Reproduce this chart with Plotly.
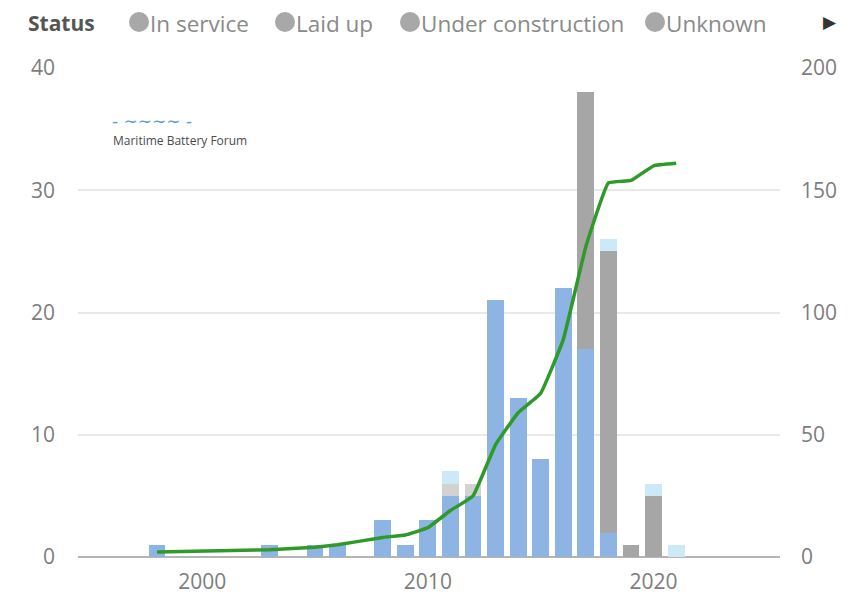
import plotly.graph_objects as go

years = [1998, 2003, 2005, 2006, 2008, 2009, 2010, 2011, 2012, 2013, 2014, 2015, 2016, 2017, 2018, 2019, 2020, 2021]
in_service = [1, 1, 1, 1, 3, 1, 3, 5, 5, 21, 13, 8, 22, 17, 2, 0, 0, 0]
laid_up = [0, 0, 0, 0, 0, 0, 0, 1, 1, 0, 0, 0, 0, 0, 0, 0, 0, 0]
under_construction = [0, 0, 0, 0, 0, 0, 0, 0, 0, 0, 0, 0, 0, 21, 23, 1, 5, 0]
unknown = [0, 0, 0, 0, 0, 0, 0, 1, 0, 0, 0, 0, 0, 0, 1, 0, 1, 1]
cumulative = [2, 3, 4, 5, 8, 9, 12, 19, 25, 46, 59, 67, 89, 127, 153, 154, 160, 161]

legend_items = ["In service", "Laid up", "Under construction", "Unknown"]
left_ticks = [0, 10, 20, 30, 40]
right_ticks = [0, 50, 100, 150, 200]
x_ticks = [2000, 2010, 2020]

FONT = "Open Sans"
TICK_COLOR = "#7d7d7d"
OFF = 8  # default page body margin
W, H = 864 - OFF, 603 - OFF
# target plot area in page pixels: x 78..780, y 68..557
ML = 78 - OFF
MT = 68 - OFF
MR = (OFF + W) - 780
MB = (OFF + H) - 557

fig = go.Figure()
series = [
    ("In service", in_service, "#8db4e2"),
    ("Laid up", laid_up, "#d2d2d2"),
    ("Under construction", under_construction, "#a6a6a6"),
    ("Unknown", unknown, "#cde8f7"),
]
for name, vals, col in series:
    fig.add_trace(go.Bar(x=years, y=vals, name=name, marker=dict(color=col, line=dict(width=0)),
                         showlegend=False))

fig.add_trace(go.Scatter(x=years, y=cumulative, yaxis="y2", mode="lines",
                         line=dict(color="#2f9a2a", width=3.5, shape="spline", smoothing=0.3),
                         showlegend=False))

fig.update_layout(
    width=W, height=H,
    margin=dict(l=ML, r=MR, t=MT, b=MB, autoexpand=False),
    paper_bgcolor="white", plot_bgcolor="white",
    barmode="stack", bargap=0.25,
    font=dict(family=FONT, color=TICK_COLOR, size=21),
    xaxis=dict(range=[1994.5, 2025.6], tickvals=x_ticks, showgrid=False, zeroline=False,
               showline=False, ticks="", automargin=False, ticklabelstandoff=10,
               tickfont=dict(size=21, color=TICK_COLOR)),
    yaxis=dict(range=[0, 40], tickvals=left_ticks, showgrid=True, gridcolor="#e9e9e9", gridwidth=1.5,
               zeroline=True, zerolinecolor="#b5b5b5", zerolinewidth=2, showline=False,
               ticks="", automargin=False, ticklabelstandoff=22, tickfont=dict(size=21, color=TICK_COLOR)),
    yaxis2=dict(range=[0, 200], tickvals=right_ticks, overlaying="y", side="right", showgrid=False,
                zeroline=False, showline=False, ticks="", automargin=False, ticklabelstandoff=20,
                tickfont=dict(size=21, color=TICK_COLOR)),
)

pw, ph = W - ML - MR, H - MT - MB
def px_to_paper(x, y):
    # x, y in page pixels
    return (x - OFF - ML) / pw, (OFF + H - MB - y) / ph

LEG_Y = 23
sx, sy = px_to_paper(27, LEG_Y)
fig.add_annotation(x=sx, y=sy, xref="paper", yref="paper", text="<b>Status</b>", showarrow=False,
                   xanchor="left", yanchor="middle", borderpad=0,
                   font=dict(size=21, color="#555555", family=FONT))

circle_x = [139, 285, 410, 655]
for cx, label in zip(circle_x, legend_items):
    xp, yp = px_to_paper(cx, LEG_Y - 1)
    fig.add_shape(type="circle", xref="paper", yref="paper", xsizemode="pixel", ysizemode="pixel",
                  xanchor=xp, yanchor=yp, x0=-10, x1=10, y0=-10, y1=10,
                  fillcolor="#a8a8a8", line=dict(width=0))
    tx, ty = px_to_paper(cx + 10, LEG_Y)
    fig.add_annotation(x=tx, y=ty, xref="paper", yref="paper", text=label, showarrow=False,
                       xanchor="left", yanchor="middle", borderpad=0,
                       font=dict(size=22.5, color="#8a8a8a", family=FONT))

tx, ty = px_to_paper(830, LEG_Y - 1)
fig.add_annotation(x=tx, y=ty, xref="paper", yref="paper", text="▶", showarrow=False,
                   xanchor="center", yanchor="middle", borderpad=0,
                   font=dict(size=17, color="#333333", family="DejaVu Sans"))

lx, ly = px_to_paper(110, 121)
fig.add_annotation(x=lx, y=ly, xref="paper", yref="paper", text="- ∼∼∼∼ -", showarrow=False,
                   xanchor="left", yanchor="middle", font=dict(size=17, color="#5b9bd5", family="DejaVu Sans"))
lx, ly = px_to_paper(111, 140)
fig.add_annotation(x=lx, y=ly, xref="paper", yref="paper", text="Maritime Battery Forum", showarrow=False,
                   xanchor="left", yanchor="middle", font=dict(size=12, color="#4a4a4a", family=FONT))

fig.write_html("out.html")
